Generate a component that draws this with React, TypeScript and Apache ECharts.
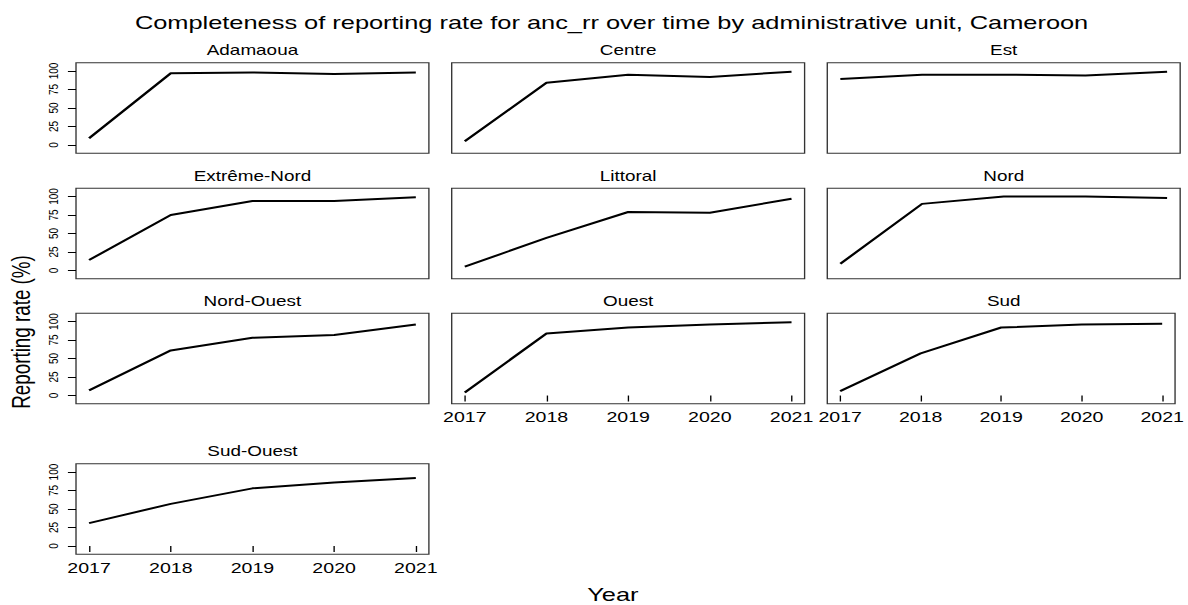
import React, { useEffect, useRef } from "react";
import * as echarts from "echarts";

// Reporting completeness (%) per region and year
const years = [2017, 2018, 2019, 2020, 2021];
const yTicks = [0, 25, 50, 75, 100];
const regions = [
  "Adamaoua",
  "Centre",
  "Est",
  "Extrême-Nord",
  "Littoral",
  "Nord",
  "Nord-Ouest",
  "Ouest",
  "Sud",
  "Sud-Ouest",
];
const adamaoua = [9, 97, 98, 96, 98];
const centre = [5, 84, 95, 92, 99];
const est = [89, 95, 95, 94, 99];
const extremeNord = [14, 75, 94, 94, 99];
const littoral = [5, 44, 79, 78, 97];
const nord = [9, 90, 100, 100, 98];
const nordOuest = [7, 61, 78, 82, 96];
const ouest = [4, 84, 92, 96, 99];
const sud = [6, 57, 92, 96, 97];
const sudOuest = [31, 57, 78, 86, 92];
const regionValues = [
  adamaoua,
  centre,
  est,
  extremeNord,
  littoral,
  nord,
  nordOuest,
  ouest,
  sud,
  sudOuest,
];

const mainTitle =
  "Completeness of reporting rate for anc_rr over time by administrative unit, Cameroon";

// The drawing is laid out on a narrower canvas and widened with scaleX.
const STRETCH = 1.35;
const W = 880;
const H = 605;
const FONT = "'Liberation Sans', Arial, Helvetica, sans-serif";

const colLeft = [56.3, 334.6, 612.8];
const colWidth = 261.4;
const rowTop = [62.7, 188.2, 313.3, 463.8];
const rowHeight = 90.5;

export default function App() {
  const ref = useRef<HTMLDivElement>(null);

  useEffect(() => {
    if (!ref.current) return;
    const chart = echarts.init(ref.current, undefined, { renderer: "svg" });

    const grids: any[] = [];
    const xAxes: any[] = [];
    const yAxes: any[] = [];
    const series: any[] = [];
    const graphics: any[] = [];

    regions.forEach((name, i) => {
      const row = Math.floor(i / 3);
      const col = i % 3;
      const showX = i === regions.length - 1 || (row === 2 && col > 0);
      const showY = col === 0;
      const left = colLeft[col];
      const top = rowTop[row];

      grids.push({
        left,
        top,
        width: colWidth,
        height: rowHeight,
        show: true,
        borderColor: "#333",
        borderWidth: 1,
        backgroundColor: "transparent",
        containLabel: false,
      });

      xAxes.push({
        type: "value",
        gridIndex: i,
        min: 2016.84,
        max: 2021.16,
        axisLine: { show: false },
        splitLine: { show: false },
        axisTick: {
          show: showX,
          length: 6,
          customValues: years,
          lineStyle: { color: "#000", width: 1 },
        },
        axisLabel: {
          show: showX,
          customValues: years,
          margin: 6,
          fontSize: 14.5,
          color: "#000",
          fontFamily: FONT,
          formatter: (v: number) => String(v),
        },
      });

      yAxes.push({
        type: "value",
        gridIndex: i,
        min: -11.2,
        max: 111.2,
        axisLine: { show: false },
        splitLine: { show: false },
        axisTick: {
          show: showY,
          length: 6,
          customValues: yTicks,
          lineStyle: { color: "#000", width: 1 },
        },
        axisLabel: {
          show: showY,
          customValues: yTicks,
          rotate: 90,
          margin: 12,
          fontSize: 10,
          color: "#000",
          fontFamily: FONT,
          formatter: (v: number) => String(v),
        },
      });

      series.push({
        type: "line",
        name,
        xAxisIndex: i,
        yAxisIndex: i,
        symbol: "none",
        lineStyle: { color: "#000", width: 2 },
        data: years.map((yr, j) => [yr, regionValues[i][j]]),
      });

      graphics.push({
        type: "text",
        x: left + colWidth / 2,
        y: top - 12,
        style: {
          text: name,
          fontSize: 14,
          fontFamily: FONT,
          fill: "#000",
          textAlign: "center",
          textVerticalAlign: "middle",
        },
      });
    });

    graphics.push(
      {
        type: "text",
        x: 453,
        y: 23,
        style: {
          text: mainTitle,
          fontSize: 18.8,
          fontFamily: FONT,
          fill: "#000",
          textAlign: "center",
          textVerticalAlign: "middle",
        },
      },
      {
        type: "text",
        x: 454,
        y: 595,
        style: {
          text: "Year",
          fontSize: 18.8,
          fontFamily: FONT,
          fill: "#000",
          textAlign: "center",
          textVerticalAlign: "middle",
        },
      },
      {
        type: "text",
        x: 16,
        y: 332,
        rotation: Math.PI / 2,
        style: {
          text: "Reporting rate (%)",
          fontSize: 18.8,
          fontFamily: FONT,
          fill: "#000",
          textAlign: "center",
          textVerticalAlign: "middle",
        },
      }
    );

    chart.setOption({
      animation: false,
      backgroundColor: "#fff",
      grid: grids,
      xAxis: xAxes,
      yAxis: yAxes,
      series,
      graphic: graphics,
    });

    return () => chart.dispose();
  }, []);

  return (
    <div
      style={{
        position: "fixed",
        left: 0,
        top: 0,
        width: W * STRETCH,
        height: H,
        overflow: "hidden",
        background: "#fff",
      }}
    >
      <div
        ref={ref}
        style={{
          width: W,
          height: H,
          transform: `scaleX(${STRETCH})`,
          transformOrigin: "0 0",
        }}
      />
    </div>
  );
}
